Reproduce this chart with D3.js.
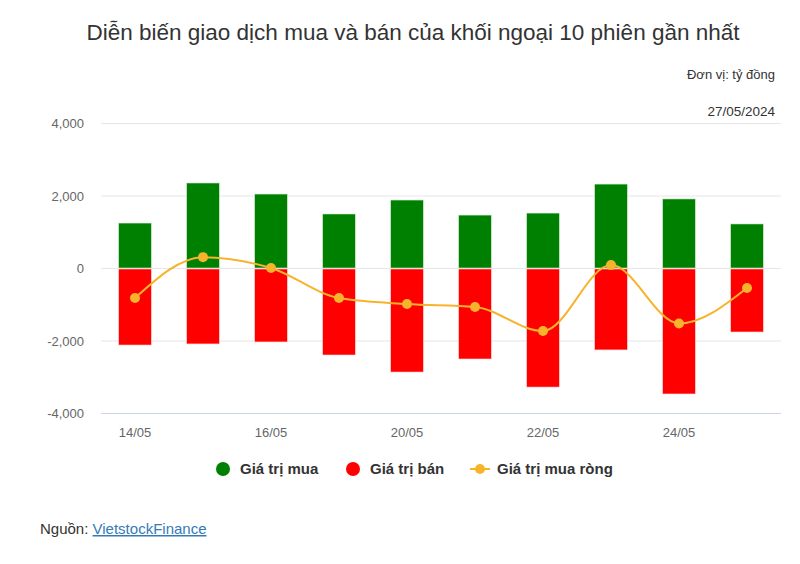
<!DOCTYPE html>
<html lang="vi">
<head>
  <meta charset="UTF-8" />
  <title>Diễn biến giao dịch mua và bán của khối ngoại</title>
  <script src="https://d3js.org/d3.v7.min.js"></script>
  <style>
    body {
      margin: 0;
      padding: 0;
      background: #fff;
      font-family: "Liberation Sans", Arial, sans-serif;
    }
    #viz { width: 800px; height: 564px; }
  </style>
</head>
<body>
  <div id="viz"></div>
  <script>
    const sessions = ["14/05", "15/05", "16/05", "17/05", "20/05", "21/05", "22/05", "23/05", "24/05", "27/05"];
    const buyValues = [1240, 2345, 2040, 1490, 1875, 1460, 1515, 2315, 1905, 1215];
    const sellValues = [-2125, -2095, -2040, -2400, -2870, -2510, -3285, -2260, -3475, -1765];
    const netValues = [-830, 300, 0, -830, -995, -1075, -1740, 80, -1530, -550];
    const yTicks = [-4000, -2000, 0, 2000, 4000];

    const width = 800, height = 564;
    const plot = { left: 101, right: 781, top: 123, bottom: 413 };

    const svg = d3.select("#viz").append("svg")
      .attr("width", width)
      .attr("height", height);

    const x = d3.scaleBand()
      .domain(sessions)
      .range([plot.left, plot.right])
      .paddingInner(0.52)
      .paddingOuter(0.26);

    const y = d3.scaleLinear()
      .domain([-4000, 4000])
      .range([plot.bottom, plot.top]);

    // title & notes
    svg.append("text")
      .attr("x", 413).attr("y", 40)
      .attr("text-anchor", "middle")
      .attr("fill", "#333")
      .style("font-size", "22.5px")
      .text("Diễn biến giao dịch mua và bán của khối ngoại 10 phiên gần nhất");

    svg.append("text")
      .attr("x", 775).attr("y", 79)
      .attr("text-anchor", "end")
      .attr("fill", "#333")
      .style("font-size", "13px")
      .text("Đơn vị: tỷ đồng");

    svg.append("text")
      .attr("x", 775).attr("y", 116)
      .attr("text-anchor", "end")
      .attr("fill", "#333")
      .style("font-size", "13.5px")
      .text("27/05/2024");

    // grid
    svg.selectAll(".grid")
      .data(yTicks)
      .enter().append("line")
      .attr("x1", plot.left).attr("x2", plot.right)
      .attr("y1", d => y(d) + 0.5).attr("y2", d => y(d) + 0.5)
      .attr("stroke", d => d === -4000 ? "#ccd6eb" : "#e6e6e6")
      .attr("stroke-width", 1);

    svg.selectAll(".ylab")
      .data(yTicks)
      .enter().append("text")
      .attr("x", 84)
      .attr("y", d => y(d) + 5)
      .attr("text-anchor", "end")
      .attr("fill", "#666")
      .style("font-size", "13px")
      .text(d => d3.format(",")(d).replace("−", "-"));

    // x labels every other session
    svg.selectAll(".xlab")
      .data(sessions.filter((d, i) => i % 2 === 0))
      .enter().append("text")
      .attr("x", d => x(d) + x.bandwidth() / 2)
      .attr("y", 437)
      .attr("text-anchor", "middle")
      .attr("fill", "#666")
      .style("font-size", "13px")
      .text(d => d);

    // bars
    svg.selectAll(".buy")
      .data(buyValues)
      .enter().append("rect")
      .attr("x", (d, i) => x(sessions[i]))
      .attr("width", x.bandwidth())
      .attr("y", d => y(d))
      .attr("height", d => y(0) - y(d))
      .attr("fill", "#008000")
      .attr("stroke", "#cfe8cf")
      .attr("stroke-width", 0.6);

    svg.selectAll(".sell")
      .data(sellValues)
      .enter().append("rect")
      .attr("x", (d, i) => x(sessions[i]))
      .attr("width", x.bandwidth())
      .attr("y", y(0) + 1)
      .attr("height", d => y(d) - y(0) - 1)
      .attr("fill", "#ff0000")
      .attr("stroke", "#ffd0d0")
      .attr("stroke-width", 0.6);

    // net line
    const cx = (d, i) => x(sessions[i]) + x.bandwidth() / 2;
    const line = d3.line()
      .x(cx)
      .y(d => y(d))
      .curve(d3.curveMonotoneX);

    svg.append("path")
      .datum(netValues)
      .attr("d", line)
      .attr("fill", "none")
      .attr("stroke", "#f7b32b")
      .attr("stroke-width", 2);

    svg.selectAll(".dot")
      .data(netValues)
      .enter().append("circle")
      .attr("cx", cx)
      .attr("cy", d => y(d))
      .attr("r", 5)
      .attr("fill", "#f7b32b");

    // legend
    const legend = svg.append("g").style("font-size", "15px").style("font-weight", "bold");
    legend.append("circle").attr("cx", 223).attr("cy", 469).attr("r", 7).attr("fill", "#008000");
    legend.append("text").attr("x", 240).attr("y", 474).attr("fill", "#333").text("Giá trị mua");
    legend.append("circle").attr("cx", 353).attr("cy", 469).attr("r", 7).attr("fill", "#ff0000");
    legend.append("text").attr("x", 370).attr("y", 474).attr("fill", "#333").text("Giá trị bán");
    legend.append("line").attr("x1", 470).attr("x2", 490).attr("y1", 469).attr("y2", 469)
      .attr("stroke", "#f7b32b").attr("stroke-width", 2);
    legend.append("circle").attr("cx", 480).attr("cy", 469).attr("r", 5).attr("fill", "#f7b32b");
    legend.append("text").attr("x", 497).attr("y", 474).attr("fill", "#333").text("Giá trị mua ròng");

    // source
    const src = svg.append("text").attr("x", 40).attr("y", 534)
      .style("font-size", "15px").attr("fill", "#333");
    src.append("tspan").text("Nguồn: ");
    src.append("tspan").attr("fill", "#337ab7").attr("text-decoration", "underline").text("VietstockFinance");
  </script>
</body>
</html>
